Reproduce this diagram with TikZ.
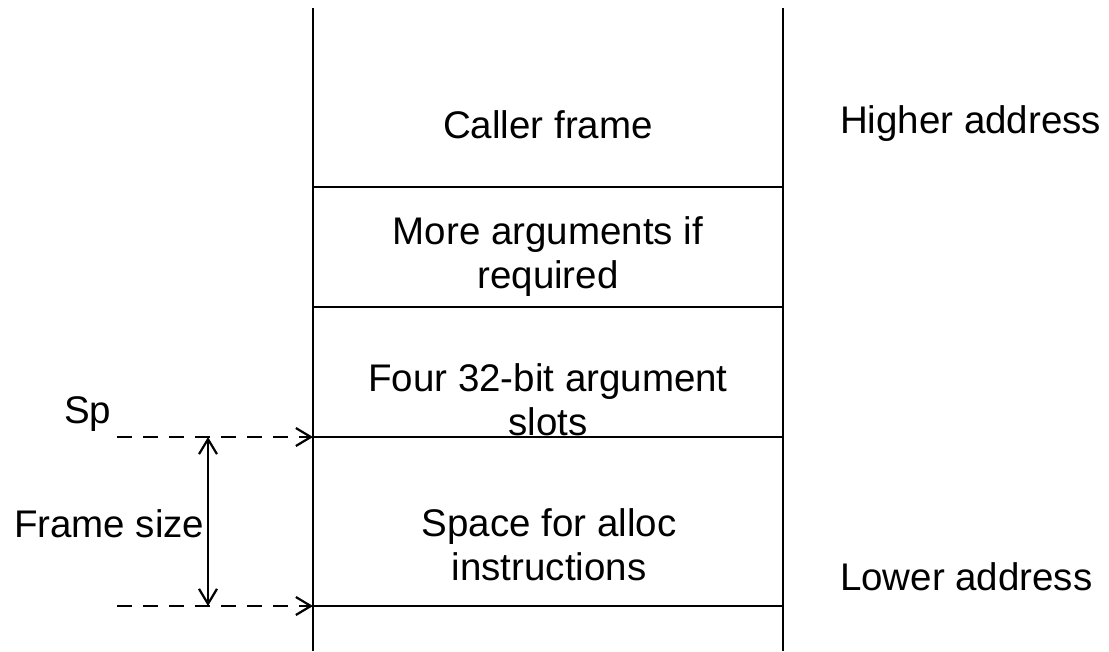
\documentclass[tikz,border=0pt]{standalone}
\usepackage{fontspec}
\setmainfont{Liberation Sans}
\usetikzlibrary{arrows.meta}
\begin{document}
\begin{tikzpicture}[x=1pt,y=-1pt,line width=2pt,
  lbl/.style={inner sep=0pt,font=\fontsize{38.5}{44}\selectfont},
  barbtip/.tip={Straight Barb[length=15pt,width=18pt,line width=2.2pt]},
  ptr/.style={dash pattern=on 15pt off 11pt,-barbtip},
  span/.style={barbtip-barbtip}]
\useasboundingbox (0,0) rectangle (1109,651);
% the two walls of the stack
\coordinate (lt) at (313,8);  \coordinate (lb) at (313,651);
\coordinate (rt) at (783,8);  \coordinate (rb) at (783,651);
\draw (lt) -- (lb);
\draw (rt) -- (rb);
% frame boundaries
\foreach \n/\y in {a/187,b/307,c/437,d/606} {
  \coordinate (\n w) at (313,\y);
  \coordinate (\n e) at (783,\y);
  \draw (\n w) -- (\n e);
}
% contents of the stack (multi-line labels sit on their last baseline)
\node[lbl,anchor=base] (caller) at (548,138) {Caller frame};
\node[lbl,align=center,anchor=base] (more) at (548,288) {More arguments if\\required};
\node[lbl,align=center,anchor=base] (four) at (548,435) {Four 32-bit argument\\slots};
\node[lbl,align=center,anchor=base] (alloc) at (549,580) {Space for alloc\\instructions};
% address direction
\node[lbl,anchor=base west] (high) at (839,133) {Higher address};
\node[lbl,anchor=base west] (low) at (839,590) {Lower address};
% stack pointer and frame size
\node[lbl,anchor=base west] (sp) at (63,423) {Sp};
\node[lbl,anchor=base west] (fs) at (13,537) {Frame size};
\coordinate (s1) at (117,437);
\coordinate (s2) at (117,606);
\draw[ptr] (s1) -- (cw);
\draw[ptr] (s2) -- (dw);
\coordinate (f1) at (208,437);
\coordinate (f2) at (208,606);
\draw[span] (f1) -- (f2);
\end{tikzpicture}
\end{document}
